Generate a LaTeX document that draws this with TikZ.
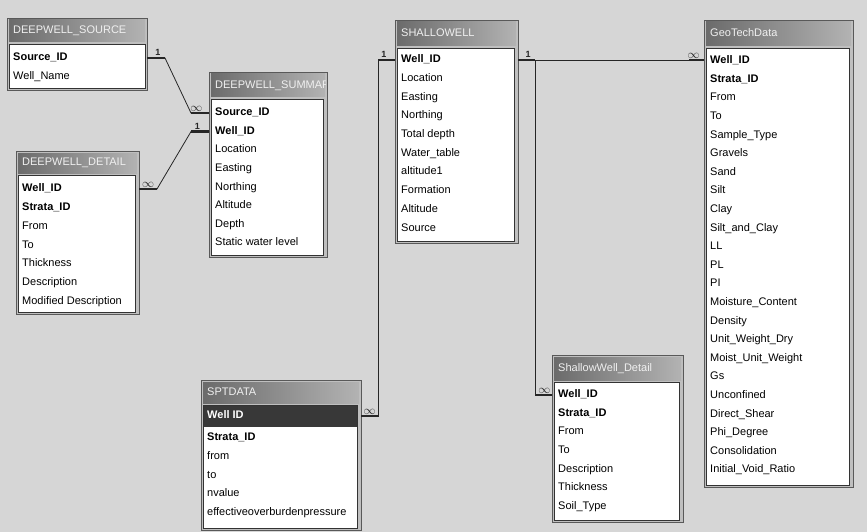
\documentclass[tikz,border=0pt]{standalone}
\usepackage{fontspec}
\setmainfont{Liberation Sans}
\usetikzlibrary{positioning, calc}

\tikzset{
  tblframe/.style={draw=black!65, fill=black!25, line width=0.9pt, outer sep=0pt, inner sep=0pt, anchor=north west},
  tbltitle/.style={left color=black!58, right color=black!30},
  tblbody/.style={draw=black!80, fill=white, line width=0.6pt},
  field/.style={anchor=west, inner sep=0pt, text height=8pt, text depth=2.5pt, font=\fontsize{11}{11}\selectfont},
  keyfield/.style={field, font=\fontsize{11}{11}\selectfont\bfseries},
  titletext/.style={anchor=west, inner sep=0pt, text=black!6, text height=8pt, text depth=2.5pt, font=\fontsize{11}{11}\selectfont},
  relline/.style={line width=0.8pt, black!85},
  stub/.style={line width=2.2pt, black!85},
  card/.style={inner sep=1pt, font=\fontsize{9}{9}\selectfont\bfseries},
  many/.style={inner sep=0.5pt, font=\fontsize{13}{13}\selectfont},
}

\begin{document}
\begin{tikzpicture}[x=1pt, y=-1pt]
  \fill[black!16] (0,0) rectangle (867,532);
  \useasboundingbox (0,0) rectangle (867,532);

  % DEEPWELL_SOURCE
  \node[tblframe, minimum width=140pt, minimum height=72pt] (src) at (7,18) {};
  \shade[tbltitle] (9,20) rectangle (145,42);
  \node[titletext] (src-t) at (13,31) {DEEPWELL\_SOURCE};
  \draw[tblbody] (9,44) rectangle (145,88);
  \node[keyfield] (src-0) at (13,58) {Source\_ID};
  \node[field] (src-1) at (13,76.5) {Well\_Name};

  % DEEPWELL_SUMMARY
  \node[tblframe, minimum width=118pt, minimum height=185pt] (sum) at (209,72) {};
  \begin{scope}
    \clip (211,74) rectangle (325,97);
    \shade[tbltitle] (211,74) rectangle (325,97);
    \node[titletext] (sum-t) at (215,85.5) {DEEPWELL\_SUMMARY};
  \end{scope}
  \draw[tblbody] (211,99) rectangle (323,255);
  \node[keyfield] (sum-0) at (215,113) {Source\_ID};
  \node[keyfield] (sum-1) at (215,131.6) {Well\_ID};
  \foreach \f [count=\i from 2] in {Location, Easting, Northing, Altitude, Depth, Static water level}
    \node[field] (sum-\i) at (215,{113+18.6*\i}) {\f};

  % DEEPWELL_DETAIL
  \node[tblframe, minimum width=123pt, minimum height=163pt] (det) at (16,151) {};
  \shade[tbltitle] (18,153) rectangle (137,173);
  \node[titletext] (det-t) at (22,163) {DEEPWELL\_DETAIL};
  \draw[tblbody] (18,175) rectangle (135,312);
  \node[keyfield] (det-0) at (22,189) {Well\_ID};
  \node[keyfield] (det-1) at (22,207.8) {Strata\_ID};
  \foreach \f [count=\i from 2] in {From, To, Thickness, Description, Modified Description}
    \node[field] (det-\i) at (22,{189+18.8*\i}) {\f};

  % SHALLOWELL
  \node[tblframe, minimum width=123pt, minimum height=223pt] (shw) at (395,20) {};
  \shade[tbltitle] (397,22) rectangle (516,46);
  \node[titletext] (shw-t) at (401,34) {SHALLOWELL};
  \draw[tblbody] (397,48) rectangle (514,241);
  \node[keyfield] (shw-0) at (401,60) {Well\_ID};
  \foreach \f [count=\i] in {Location, Easting, Northing, Total depth, Water\_table, altitude1, Formation, Altitude, Source}
    \node[field] (shw-\i) at (401,{60+18.7*\i}) {\f};

  % GeoTechData
  \node[tblframe, minimum width=149pt, minimum height=467pt] (geo) at (704,20) {};
  \shade[tbltitle] (706,22) rectangle (851,46);
  \node[titletext] (geo-t) at (710,34) {GeoTechData};
  \draw[tblbody] (706,48) rectangle (849,485);
  \node[keyfield] (geo-0) at (710,61) {Well\_ID};
  \node[keyfield] (geo-1) at (710,79.6) {Strata\_ID};
  \foreach \f [count=\i from 2] in {From, To, Sample\_Type, Gravels, Sand, Silt, Clay, Silt\_and\_Clay, LL, PL, PI,
      Moisture\_Content, Density, Unit\_Weight\_Dry, Moist\_Unit\_Weight, Gs, Unconfined, Direct\_Shear,
      Phi\_Degree, Consolidation, Initial\_Void\_Ratio}
    \node[field] (geo-\i) at (710,{61+18.6*\i}) {\f};

  % ShallowWell_Detail
  \node[tblframe, minimum width=131pt, minimum height=167pt] (swd) at (552,355) {};
  \shade[tbltitle] (554,357) rectangle (681,380);
  \node[titletext] (swd-t) at (558,368.5) {ShallowWell\_Detail};
  \draw[tblbody] (554,382) rectangle (679,520);
  \node[keyfield] (swd-0) at (558,395) {Well\_ID};
  \node[keyfield] (swd-1) at (558,413.6) {Strata\_ID};
  \foreach \f [count=\i from 2] in {From, To, Description, Thickness, Soil\_Type}
    \node[field] (swd-\i) at (558,{395+18.6*\i}) {\f};

  % SPTDATA
  \node[tblframe, minimum width=160pt, minimum height=150pt] (spt) at (201,380) {};
  \shade[tbltitle] (203,382) rectangle (359,403);
  \node[titletext] (spt-t) at (207,392.5) {SPTDATA};
  \draw[tblbody] (203,405) rectangle (357,528);
  \fill[black!78] (204,405.5) rectangle (356.5,427);
  \node[keyfield, text=white] (spt-0) at (207,416) {Well ID};
  \node[keyfield] (spt-1) at (207,438) {Strata\_ID};
  \foreach \f [count=\i from 2] in {from, to, nvalue, effectiveoverburdenpressure}
    \node[field] (spt-\i) at (207,{419+18.8*\i}) {\f};

  % relationships
  \draw[relline] (src.east |- src-0) -- ++(18,0) -- ($(sum.west |- sum-0)+(-18,0)$) -- (sum.west |- sum-0);
  \draw[stub] (src.east |- src-0) -- ++(18,0) node[card, pos=0.6, above] {1};
  \draw[stub] (sum.west |- sum-0) -- ++(-18,0) node[many, pos=0.7, above] {$\infty$};

  \draw[relline] (det.east |- det-0) -- ++(18,0) -- ($(sum.west |- sum-1)+(-18,0)$) -- (sum.west |- sum-1);
  \draw[stub] (det.east |- det-0) -- ++(18,0) node[many, pos=0.5, above] {$\infty$};
  \draw[stub] (sum.west |- sum-1) -- ++(-18,0) node[card, pos=0.65, above] {1};

  \draw[relline] (shw.west |- shw-0) -- ++(-17,0) coordinate (bendl) -- (bendl |- spt-0) -- (spt.east |- spt-0);
  \draw[stub] (shw.west |- shw-0) -- ++(-17,0) node[card, pos=0.65, above] {1};
  \draw[stub] (spt.east |- spt-0) -- ++(17,0) node[many, pos=0.5, above] {$\infty$};

  \draw[relline] (shw.east |- shw-0) -- (geo.west |- shw-0);
  \draw[relline] (shw.east |- shw-0) -- ++(17,0) coordinate (bendr) -- (bendr |- swd-0) -- (swd.west |- swd-0);
  \draw[stub] (shw.east |- shw-0) -- ++(17,0) node[card, pos=0.6, above] {1};
  \draw[stub] (geo.west |- shw-0) -- ++(-15,0) node[many, pos=0.7, above] {$\infty$};
  \draw[stub] (swd.west |- swd-0) -- ++(-17,0) node[many, pos=0.45, above] {$\infty$};
\end{tikzpicture}
\end{document}
